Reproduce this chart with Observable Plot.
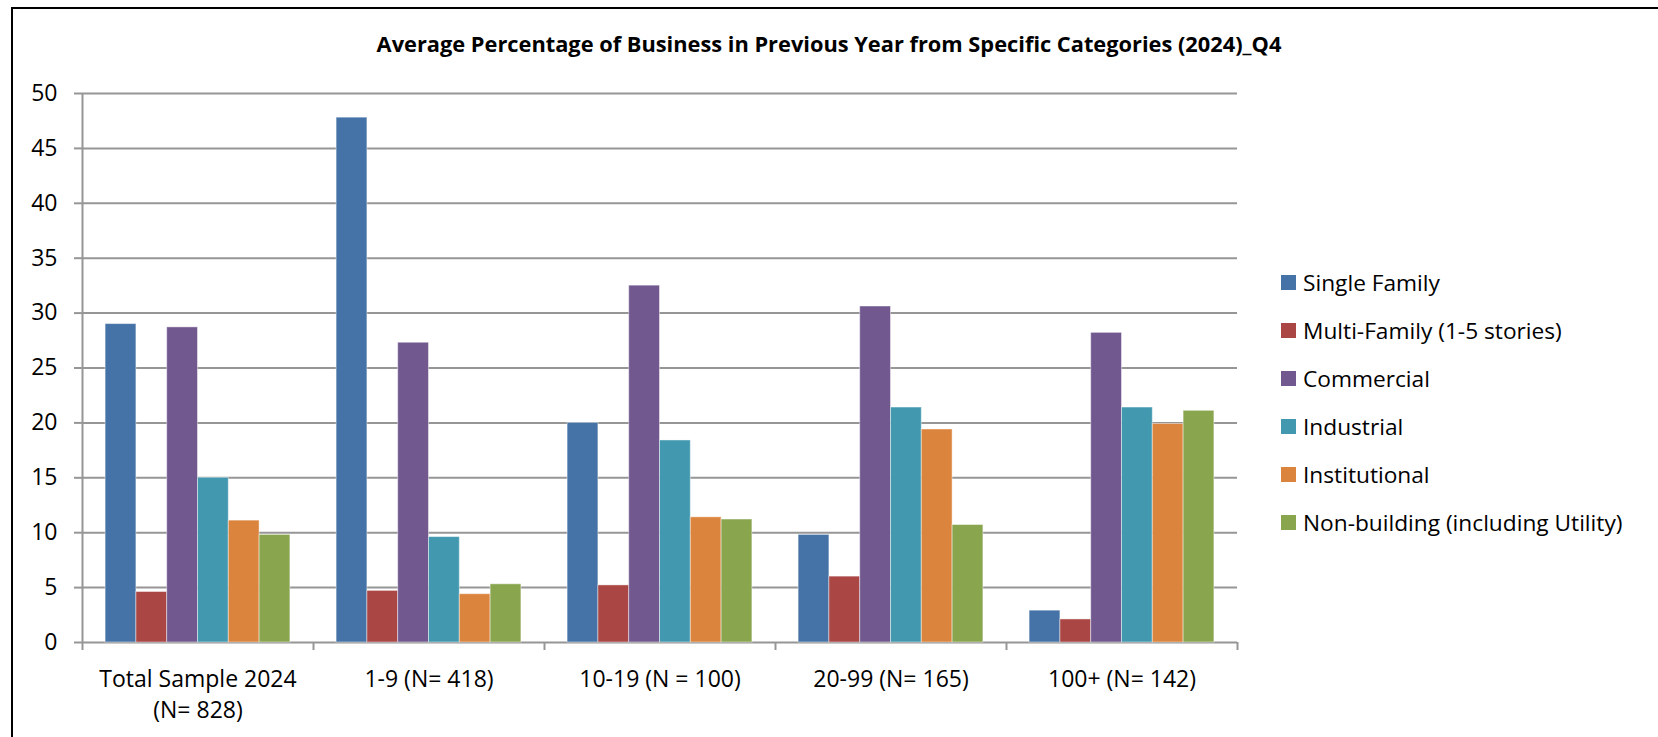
<!DOCTYPE html>
<html>
<head>
<meta charset="utf-8">
<script src="https://cdn.jsdelivr.net/npm/d3@7"></script>
<script src="https://cdn.jsdelivr.net/npm/@observablehq/plot@0.6"></script>
<style>
  html, body { margin: 0; padding: 0; background: #fff; }
  #page { position: relative; width: 1658px; height: 737px; overflow: hidden; font-family: "Open Sans", sans-serif; color: #000; }
  #frame { position: absolute; left: 11px; top: 7px; width: 2000px; height: 1000px; border-left: 2px solid #000; border-top: 2px solid #000; box-sizing: border-box; }
  #title { position: absolute; left: 0; top: 33px; width: 1658px; text-align: center; font-weight: 700; font-size: 21.8px; line-height: 22px; white-space: nowrap; }
  #chart { position: absolute; left: 0; top: 0; }
  #legend { position: absolute; left: 1281px; top: 258px; font-size: 22.7px; }
  .item { display: flex; align-items: center; height: 48px; white-space: nowrap; }
  .swatch { width: 15px; height: 15px; margin-right: 7px; flex: none; }
</style>
</head>
<body>
<div id="page">
  <div id="frame"></div>
  <div id="title">Average Percentage of Business in Previous Year from Specific Categories (2024)_Q4</div>
  <div id="chart"></div>
  <div id="legend"></div>
</div>
<script>
// Company-size groups (x categories)
const groups = [
  "Total Sample 2024\n(N= 828)",
  "1-9 (N= 418)",
  "10-19 (N = 100)",
  "20-99 (N= 165)",
  "100+ (N= 142)"
];

// Business categories (series)
const series = [
  "Single Family",
  "Multi-Family (1-5 stories)",
  "Commercial",
  "Industrial",
  "Institutional",
  "Non-building (including Utility)"
];
const colors = ["#4572A7", "#AA4643", "#71588F", "#4198AF", "#DB843D", "#89A54E"];

// Average % of business, one value per group
const singleFamily  = [29.0, 47.8, 20.0,  9.8,  2.9];
const multiFamily   = [ 4.6,  4.7,  5.2,  6.0,  2.1];
const commercial    = [28.7, 27.3, 32.5, 30.6, 28.2];
const industrial    = [15.0,  9.6, 18.4, 21.4, 21.4];
const institutional = [11.1,  4.4, 11.4, 19.4, 19.9];
const nonBuilding   = [ 9.8,  5.3, 11.2, 10.7, 21.1];

const yTicks = [0, 5, 10, 15, 20, 25, 30, 35, 40, 45, 50];

const seriesValues = [singleFamily, multiFamily, commercial, industrial, institutional, nonBuilding];
const rows = groups.flatMap((group, gi) =>
  series.map((name, si) => ({group, series: name, slot: si, value: seriesValues[si][gi]}))
);

// Slot axis inside each group: 6 bar slots with a gap of 1.5 slots between groups
const slotMin = -0.75, slotMax = series.length + 0.75;
const edges = groups.map(group => ({group, edge: slotMin}))
  .concat([{group: groups[groups.length - 1], edge: slotMax}]);

const gridColor = "#969696";

const chart = Plot.plot({
  width: 1260,
  height: 737,
  marginLeft: 81,
  marginRight: 22,
  marginTop: 93,
  marginBottom: 95,
  style: {fontFamily: "'Open Sans', sans-serif", fontSize: "23px", color: "#000", background: "transparent"},
  fx: {domain: groups, padding: 0},
  x: {domain: [slotMin, slotMax], axis: null},
  y: {domain: [0, 50]},
  color: {domain: series, range: colors},
  marks: [
    Plot.ruleY(yTicks, {stroke: gridColor, strokeWidth: 2}),
    Plot.rect(rows, {
      fx: "group",
      x1: "slot",
      x2: d => d.slot + 1,
      y1: 0,
      y2: "value",
      fill: "series",
      stroke: "#fff",
      strokeOpacity: 0.45,
      strokeWidth: 1
    }),
    // vertical value axis line
    Plot.ruleX(edges.slice(0, 1), {fx: "group", x: "edge", y1: 0, y2: 50, stroke: gridColor, strokeWidth: 2}),
    // category boundary tick marks below the baseline
    Plot.ruleX(edges, {fx: "group", x: "edge", y1: 0, y2: 0, insetBottom: -8, stroke: gridColor, strokeWidth: 2}),
    Plot.axisY({ticks: yTicks, tickSize: 8, tickPadding: 17, stroke: gridColor, strokeWidth: 2, fill: "#000", fontSize: 23, label: null}),
    Plot.axisFx({anchor: "bottom", tickSize: 0, tickPadding: 22, fill: "#000", fontSize: 23, lineHeight: 1.36, label: null})
  ]
});
document.getElementById("chart").appendChild(chart);

// Legend
const legend = document.getElementById("legend");
series.forEach((name, i) => {
  const item = document.createElement("div");
  item.className = "item";
  const sw = document.createElement("span");
  sw.className = "swatch";
  sw.style.background = colors[i];
  const label = document.createElement("span");
  label.textContent = name;
  item.appendChild(sw);
  item.appendChild(label);
  legend.appendChild(item);
});
</script>
</body>
</html>
